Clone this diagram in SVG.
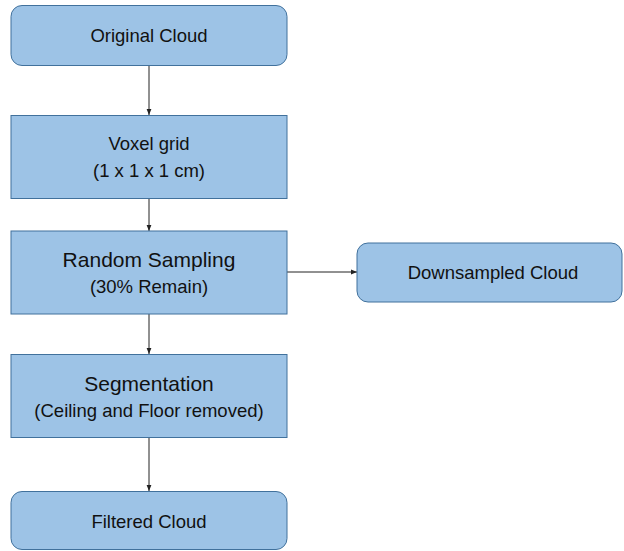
<svg xmlns="http://www.w3.org/2000/svg" width="624" height="551" viewBox="0 0 624 551">
  <style>
    .box { fill: #9dc3e6; stroke: #41719c; stroke-width: 1; }
    .lbl { font-family: "Liberation Sans", Arial, sans-serif; fill: #111; text-anchor: middle; }
    .t16 { font-size: 18.5px; }
    .t19 { font-size: 21px; }
    .conn { stroke: #222; stroke-width: 1; fill: none; marker-end: url(#arrow); }
  </style>
  <defs>
    <marker id="arrow" viewBox="0 0 10 10" refX="10" refY="5" markerWidth="6" markerHeight="6" orient="auto" markerUnits="userSpaceOnUse">
      <path d="M0,1 L10,5 L0,9 z" fill="#222"/>
    </marker>
  </defs>

  <g id="connectors">
    <line class="conn" x1="149" y1="65" x2="149" y2="115"/>
    <line class="conn" x1="149" y1="198" x2="149" y2="231"/>
    <line class="conn" x1="149" y1="314" x2="149" y2="354"/>
    <line class="conn" x1="149" y1="438" x2="149" y2="491"/>
    <line class="conn" x1="287" y1="272" x2="357" y2="272"/>
  </g>

  <g id="original-cloud">
    <rect class="box" x="11" y="5.5" width="276" height="60" rx="11"/>
    <text class="lbl t16" x="149" y="42">Original Cloud</text>
  </g>

  <g id="voxel-grid">
    <rect class="box" x="11" y="115.5" width="276" height="83"/>
    <text class="lbl t16" x="149" y="150">Voxel grid</text>
    <text class="lbl t16" x="149" y="177">(1 x 1 x 1 cm)</text>
  </g>

  <g id="random-sampling">
    <rect class="box" x="11" y="231" width="276" height="83"/>
    <text class="lbl t19" x="149" y="267">Random Sampling</text>
    <text class="lbl t16" x="149" y="293">(30% Remain)</text>
  </g>

  <g id="downsampled-cloud">
    <rect class="box" x="357" y="243" width="265" height="59" rx="11"/>
    <text class="lbl t16" x="493" y="279">Downsampled Cloud</text>
  </g>

  <g id="segmentation">
    <rect class="box" x="11" y="354.5" width="276" height="83"/>
    <text class="lbl t19" x="149" y="391">Segmentation</text>
    <text class="lbl t16" x="149" y="417">(Ceiling and Floor removed)</text>
  </g>

  <g id="filtered-cloud">
    <rect class="box" x="11" y="491.5" width="276" height="58" rx="11"/>
    <text class="lbl t16" x="149" y="528">Filtered Cloud</text>
  </g>
</svg>
